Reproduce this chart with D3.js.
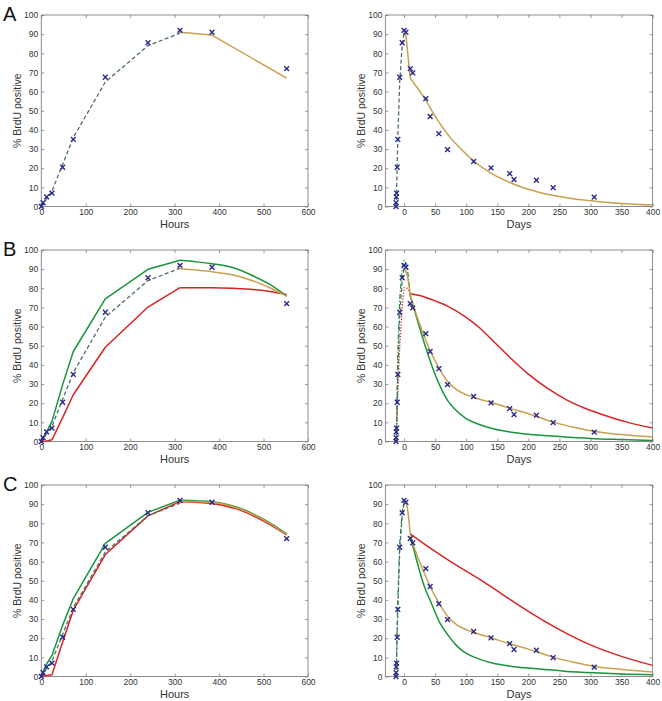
<!DOCTYPE html>
<html><head><meta charset="utf-8">
<script src="https://cdn.jsdelivr.net/npm/d3@7"></script>
<style>
html,body{margin:0;padding:0;background:#fff;}
svg{display:block;font-family:"Liberation Sans",Arial,sans-serif;}
</style></head>
<body><svg id="chart" width="662" height="701"></svg>
<script>
// ---------------- DATA ----------------
const panelLetters = ["A", "B", "C"];
const hourTicks = [0, 100, 200, 300, 400, 500, 600];
const dayTicks = [0, 50, 100, 150, 200, 250, 300, 350, 400];
const pctTicks = [0, 10, 20, 30, 40, 50, 60, 70, 80, 90, 100];
const dayShift = 13; // hour 312 = day 0

// observed data (hours, left panels)
const obsHours = [0, 4, 12, 24, 48, 72, 144, 240, 312, 384, 552];
const obsHoursPct = [0, 2, 5, 7, 20.5, 35, 67.5, 85.5, 92, 91, 72];
// observed data after labelling (days, right panels only)
const obsDays = [14, 35, 42, 56, 70, 112, 140, 170, 177, 213, 240, 306];
const obsDaysPct = [69.8, 56.3, 47, 38, 29.7, 23.5, 20.2, 17.2, 14.1, 13.7, 9.9, 4.9];

// rising-phase model (dashed) in hours
const riseHours = [0, 4, 12, 24, 48, 72, 144, 240, 312];
const dashedRise = [0, 1.5, 4, 8, 22, 36, 65, 84, 90.5];

// Panel A
const goldA_hours = [312, 384, 552];
const goldA_pct = [91, 89.5, 67];
const goldA_days = [10, 20, 28, 35, 42, 56, 70, 90, 113, 142, 171, 214, 241, 275, 307, 350, 400];
const goldA_dpct = [67, 62.5, 59, 55.5, 51.5, 44.2, 37.8, 30.5, 23.5, 17, 12.4, 7.7, 5.7, 3.9, 2.8, 1.6, 0.8];

// Panel B
const greenB_rise = [0, 2, 5, 10.5, 29.7, 47, 74.5, 89.9, 94.6];
const redB_rise = [0, 0.1, 0.3, 0.9, 12.5, 24.4, 49.2, 70.2, 80.3];
const declHoursB = [312, 350, 384, 432, 477, 514, 552];
const greenB_decl = [94.6, 93.8, 92.8, 90.7, 86.4, 82, 75.9];
const goldB_decl = [90.2, 89.5, 88.7, 86.9, 83.8, 80.3, 75.9];
const redB_decl = [80.3, 80.3, 80.3, 80, 79.4, 78.3, 76.8];
const tailDaysB_green = [10, 20, 30, 40, 50, 60, 70, 80, 100, 120, 145, 170, 200, 250, 300, 350, 400];
const greenB_tail = [76, 65, 54, 44, 35, 27.5, 21.5, 17.5, 12, 9, 6.5, 5, 3.8, 2.6, 1.6, 1, 0.5];
const tailDaysB_gold = [10, 20, 30, 42, 56, 70, 85, 100, 113, 142, 171, 200, 241, 275, 307, 350, 400];
const goldB_tail = [76.5, 66, 57, 47.5, 38.5, 31.5, 27, 24.5, 23, 20.2, 17.3, 14.5, 10, 7.3, 5.2, 3.6, 2.3];
const tailDaysB_red = [10, 25, 43, 70, 97, 120, 145, 170, 200, 230, 260, 290, 320, 360, 400];
const redB_tail = [77.2, 76.2, 74.3, 70.7, 65.5, 59.8, 52, 44, 35.2, 28, 22, 17.5, 14, 10, 7];

// Panel C
const greenC_rise = [0, 2.5, 6.6, 11, 26.7, 40.7, 69.5, 85.7, 92.1];
const redC_rise = [0, 0.3, 0.5, 0.9, 18, 34.6, 63.7, 83.9, 91.3];
const declHoursC = [312, 384, 450, 500, 552];
const greenC_decl = [92.1, 91.3, 87.6, 82.1, 74.5];
const goldC_decl = [91.5, 90.8, 87.2, 81.8, 74.2];
const redC_decl = [91.3, 90.4, 86.7, 81.2, 74];
const tailDaysC_green = [10, 20, 32, 43, 57, 71, 85, 97, 113, 142, 171, 214, 258, 307, 350, 400];
const greenC_tail = [73.5, 61, 47.6, 39, 28.4, 21.5, 16, 12.7, 10.1, 7, 5.4, 4, 2.8, 1.9, 1.3, 0.9];
const tailDaysC_gold = [10, 20, 30, 42, 56, 70, 85, 100, 113, 142, 171, 200, 241, 275, 307, 350, 400];
const goldC_tail = [73.5, 64, 56, 47, 38.5, 31.5, 27, 24.5, 23, 20, 17, 14.3, 10, 7.3, 5.2, 3.7, 2.4];
const tailDaysC_red = [10, 40, 70, 100, 130, 160, 200, 250, 300, 350, 400];
const redC_tail = [74.5, 67.5, 61, 55, 49, 42.5, 34, 24.5, 16.5, 10.5, 5.8];

// ---------------- STYLE ----------------
const COL = {gold: "#c9a04e", green: "#1a953c", red: "#d92323", dash: "#4c6e66", mark: "#2a2a88", axis: "#808080", text: "#333"};

const svg = d3.select("#chart");
const rowTops = [15, 250, 485];
const plotH = 191.5;
const leftX = [41.3, 308];
const rightX = [385.4, 652.6];

const zip = (xs, ys) => xs.map((x, i) => [x, ys[i]]);
const toDays = hs => hs.map(h => h / 24 - dayShift);

function drawPanel(top, xRange, xDomain, xTicks, xLabel, series, pts) {
  const x = d3.scaleLinear().domain(xDomain).range(xRange);
  const y = d3.scaleLinear().domain([0, 100]).range([top + plotH, top]);
  const g = svg.append("g");
  const L = xRange[0], R = xRange[1], T = top, B = top + plotH;
  g.append("rect").attr("x", L).attr("y", T).attr("width", R - L).attr("height", B - T)
    .attr("fill", "none").attr("stroke", COL.axis).attr("stroke-width", 0.9);
  const tl = 3;
  const xt = d3.axisBottom(x).tickValues(xTicks).tickSize(-tl).tickPadding(2).tickFormat(d3.format("d"));
  const gx = g.append("g").attr("transform", `translate(0,${B})`).call(xt);
  const xtTop = d3.axisTop(x).tickValues(xTicks).tickSize(-tl).tickFormat("");
  const gxt = g.append("g").attr("transform", `translate(0,${T})`).call(xtTop);
  const yt = d3.axisLeft(y).tickValues(pctTicks).tickSize(-tl).tickPadding(3);
  const gy = g.append("g").attr("transform", `translate(${L},0)`).call(yt);
  const ytR = d3.axisRight(y).tickValues(pctTicks).tickSize(-tl).tickFormat("");
  const gyr = g.append("g").attr("transform", `translate(${R},0)`).call(ytR);
  [gx, gxt, gy, gyr].forEach(a => {
    a.select(".domain").remove();
    a.selectAll(".tick line").attr("stroke", COL.axis).attr("stroke-width", 0.8);
    a.selectAll(".tick text").attr("fill", COL.text).attr("font-size", "8.5px");
  });
  g.append("text").attr("x", (L + R) / 2).attr("y", B + 21).attr("text-anchor", "middle")
    .attr("font-size", "11px").attr("fill", COL.text).text(xLabel);
  g.append("text").attr("transform", `translate(${L - 20},${(T + B) / 2}) rotate(-90)`)
    .attr("text-anchor", "middle").attr("font-size", "10.5px").attr("fill", COL.text).text("% BrdU positive");
  const clipId = "clip" + Math.round(top) + "_" + Math.round(L);
  svg.append("clipPath").attr("id", clipId).append("rect")
    .attr("x", L).attr("y", T - 2).attr("width", R - L).attr("height", B - T + 4);
  const lg = g.append("g").attr("clip-path", `url(#${clipId})`);
  series.forEach(s => {
    const line = d3.line().x(d => x(d[0])).y(d => y(d[1]))
      .curve(s.smooth ? d3.curveMonotoneX : d3.curveLinear);
    lg.append("path").datum(s.data).attr("d", line).attr("fill", "none")
      .attr("stroke", s.color).attr("stroke-width", s.width || 1.5)
      .attr("stroke-dasharray", s.dash || null).attr("stroke-linejoin", "round");
  });
  const m = 2.4;
  const mg = g.append("g");
  pts.forEach(p => {
    const cx = x(p[0]), cy = y(p[1]);
    mg.append("path").attr("d", `M${cx - m},${cy - m}L${cx + m},${cy + m}M${cx - m},${cy + m}L${cx + m},${cy - m}`)
      .attr("stroke", COL.mark).attr("stroke-width", 1.4).attr("fill", "none");
  });
}

const DASH = "4,2.5", DASHDOT = "5,2,1.2,2", DOT = "1.3,1.6";
const hoursPts = zip(obsHours, obsHoursPct);
const daysPts = zip(toDays(obsHours), obsHoursPct).concat(zip(obsDays, obsDaysPct));

// -------- Row A --------
drawPanel(rowTops[0], leftX, [0, 600], hourTicks, "Hours", [
  {data: zip(riseHours, dashedRise), color: COL.dash, dash: DASH, width: 1.3},
  {data: zip(goldA_hours, goldA_pct), color: COL.gold}
], hoursPts);
drawPanel(rowTops[0], rightX, [-30, 400], dayTicks, "Days", [
  {data: zip(toDays(riseHours), dashedRise), color: COL.dash, dash: DASH, width: 1.3},
  {data: zip(toDays(goldA_hours), goldA_pct), color: COL.gold},
  {data: zip(goldA_days, goldA_dpct), color: COL.gold, smooth: true}
], daysPts);

// -------- Row B --------
drawPanel(rowTops[1], leftX, [0, 600], hourTicks, "Hours", [
  {data: zip(riseHours, redB_rise), color: COL.red},
  {data: zip(declHoursB, redB_decl), color: COL.red, smooth: true},
  {data: zip(riseHours, greenB_rise), color: COL.green},
  {data: zip(declHoursB, greenB_decl), color: COL.green, smooth: true},
  {data: zip(riseHours, dashedRise), color: COL.dash, dash: DASH, width: 1.3},
  {data: zip(declHoursB, goldB_decl), color: COL.gold, smooth: true}
], hoursPts);
drawPanel(rowTops[1], rightX, [-30, 400], dayTicks, "Days", [
  {data: zip(toDays(riseHours), redB_rise).concat(zip(toDays(declHoursB), redB_decl)), color: COL.red, dash: DOT, width: 1.2},
  {data: zip(toDays(riseHours), greenB_rise).concat(zip(toDays(declHoursB), greenB_decl)), color: COL.green, dash: DASHDOT, width: 1.2},
  {data: zip(toDays(riseHours), dashedRise), color: COL.dash, dash: DASH, width: 1.2},
  {data: zip(tailDaysB_red, redB_tail), color: COL.red, smooth: true},
  {data: zip(tailDaysB_green, greenB_tail), color: COL.green, smooth: true},
  {data: zip(toDays(declHoursB), goldB_decl), color: COL.gold, smooth: true},
  {data: zip(tailDaysB_gold, goldB_tail), color: COL.gold, smooth: true}
], daysPts);

// -------- Row C --------
drawPanel(rowTops[2], leftX, [0, 600], hourTicks, "Hours", [
  {data: zip(riseHours, redC_rise), color: COL.red},
  {data: zip(declHoursC, redC_decl), color: COL.red, smooth: true},
  {data: zip(riseHours, greenC_rise), color: COL.green},
  {data: zip(declHoursC, greenC_decl), color: COL.green, smooth: true},
  {data: zip(riseHours, dashedRise), color: COL.dash, dash: DASH, width: 1.3},
  {data: zip(declHoursC, goldC_decl), color: COL.gold, smooth: true}
], hoursPts);
drawPanel(rowTops[2], rightX, [-30, 400], dayTicks, "Days", [
  {data: zip(toDays(riseHours), greenC_rise), color: COL.green, dash: DASHDOT, width: 1.2},
  {data: zip(toDays(riseHours), dashedRise), color: COL.dash, dash: DASH, width: 1.2},
  {data: zip(tailDaysC_red, redC_tail), color: COL.red, smooth: true},
  {data: zip(tailDaysC_green, greenC_tail), color: COL.green, smooth: true},
  {data: zip(toDays(declHoursC), goldC_decl), color: COL.gold, smooth: true},
  {data: zip(tailDaysC_gold, goldC_tail), color: COL.gold, smooth: true}
], daysPts);

// panel letters
panelLetters.forEach((t, i) => {
  svg.append("text").attr("x", 3).attr("y", rowTops[i] + 6).attr("font-size", "20px")
    .attr("fill", "#111").text(t);
});
</script></body></html>
